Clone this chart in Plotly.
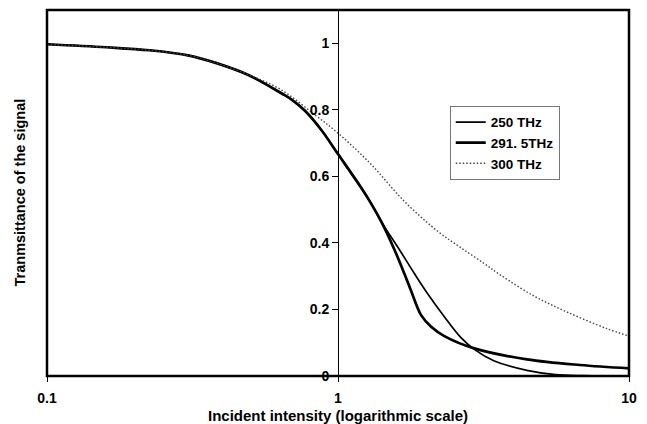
import plotly.graph_objects as go

# ---- data ----
x_250 = [0.1, 0.16, 0.225, 0.308, 0.38, 0.494, 0.641, 0.695, 0.77, 0.879, 1.0, 1.205, 1.30, 1.41,
         1.63, 1.83, 2.03, 2.32, 2.64, 2.94, 3.43, 4.46, 5.6, 7.0, 10.0]
t_250 = [0.997, 0.988, 0.979, 0.963, 0.941, 0.904, 0.849, 0.830, 0.797, 0.738, 0.667, 0.564, 0.518, 0.463,
         0.378, 0.308, 0.248, 0.178, 0.116, 0.080, 0.046, 0.017, 0.004, 0.001, 0.0]

x_2915 = [0.1, 0.16, 0.225, 0.308, 0.38, 0.494, 0.641, 0.695, 0.77, 0.879, 1.0, 1.205, 1.30, 1.41,
          1.566, 1.69, 1.78, 1.93, 2.09, 2.32, 2.94, 4.46, 6.78, 10.0]
t_2915 = [0.997, 0.988, 0.979, 0.963, 0.941, 0.904, 0.849, 0.830, 0.797, 0.738, 0.667, 0.564, 0.518, 0.463,
          0.378, 0.308, 0.258, 0.183, 0.148, 0.120, 0.083, 0.050, 0.033, 0.023]

x_300 = [0.1, 0.16, 0.225, 0.308, 0.38, 0.494, 0.641, 0.835, 1.0, 1.30, 1.69, 2.20, 2.64,
         3.18, 3.61, 4.70, 6.1, 8.36, 10.0]
t_300 = [0.997, 0.988, 0.979, 0.963, 0.941, 0.905, 0.859, 0.784, 0.730, 0.636, 0.525, 0.435, 0.386,
         0.338, 0.304, 0.241, 0.193, 0.143, 0.120]

x_ticks = [0.1, 1, 10]
x_tick_text = ["0.1", "1", "10"]
y_ticks = [0, 0.2, 0.4, 0.6, 0.8, 1]
y_tick_text = ["0", "0.2", "0.4", "0.6", "0.8", "1"]

FONT = "Liberation Sans, Arial, sans-serif"

fig = go.Figure()
fig.add_trace(go.Scatter(x=x_250, y=t_250, mode="lines", name="250 THz",
                         line=dict(color="black", width=1.7, shape="spline", smoothing=1.0)))
fig.add_trace(go.Scatter(x=x_2915, y=t_2915, mode="lines", name="291. 5THz",
                         line=dict(color="black", width=2.7, shape="spline", smoothing=1.0)))
fig.add_trace(go.Scatter(x=x_300, y=t_300, mode="lines", name="300 THz",
                         line=dict(color="#444444", width=1.4, dash="1.5px,2px",
                                   shape="spline", smoothing=1.0)))

fig.update_layout(
    width=647, height=424,
    margin=dict(l=47, r=15, t=10, b=48),
    paper_bgcolor="white", plot_bgcolor="white",
    font=dict(family=FONT, size=13, color="black", weight="bold"),
    showlegend=True,
    legend=dict(x=0.692, y=0.738, xanchor="left", yanchor="top",
                bordercolor="#777777", borderwidth=1, bgcolor="white",
                font=dict(family=FONT, size=13.5, color="black", weight="bold"),
                itemwidth=30, tracegroupgap=0),
    xaxis=dict(type="log", range=[-1, 1], tickvals=x_ticks, ticktext=x_tick_text,
               showgrid=False, zeroline=False, showline=False,
               ticks="outside", ticklen=5, tickcolor="black", tickwidth=1,
               ticklabelstandoff=4,
               tickfont=dict(family=FONT, size=14, color="black", weight="bold")),
    yaxis=dict(range=[0, 1.1], tickvals=y_ticks, ticktext=y_tick_text,
               anchor="free", position=0.5,
               showgrid=False, zeroline=False, showline=True, linecolor="black", linewidth=1,
               ticks="outside", ticklen=6, tickcolor="black", tickwidth=1,
               tickfont=dict(family=FONT, size=14, color="black", weight="bold")),
    shapes=[dict(type="rect", xref="paper", yref="paper", x0=0, x1=1, y0=0, y1=1,
                 line=dict(color="black", width=2.5), layer="above")],
    annotations=[
        dict(text="Incident intensity (logarithmic scale)", xref="paper", yref="paper",
             x=0.5, y=-0.108, xanchor="center", yanchor="middle", showarrow=False,
             font=dict(family=FONT, size=15, color="black", weight="bold")),
        dict(text="Tranmsittance of the signal", xref="paper", yref="paper",
             x=-0.046, y=0.502, xanchor="center", yanchor="middle", showarrow=False,
             textangle=-90,
             font=dict(family=FONT, size=14.5, color="black", weight="bold")),
    ],
)

fig.write_html("out.html")
